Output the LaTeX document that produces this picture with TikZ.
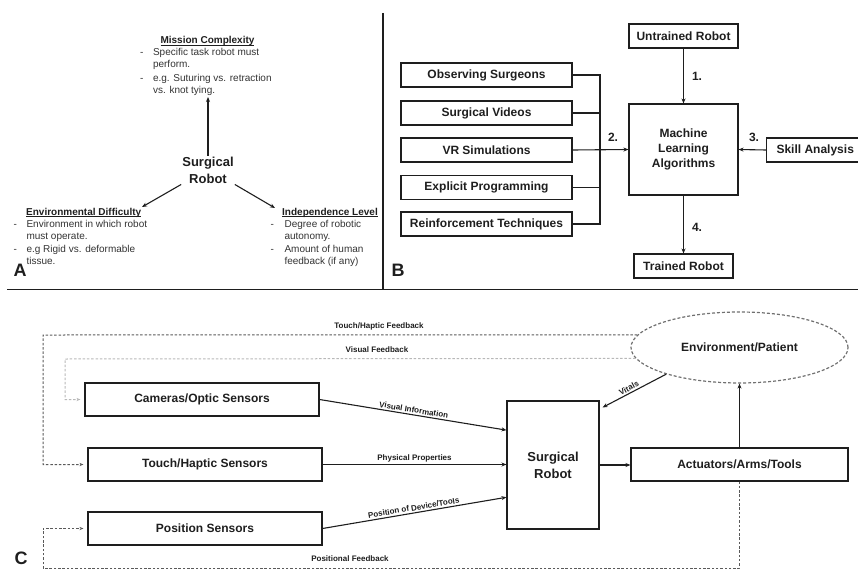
\documentclass[tikz,border=0pt]{standalone}
\usepackage{fontspec}
\setmainfont{Liberation Sans}
\usetikzlibrary{arrows.meta,shapes.geometric,calc}
\definecolor{ink}{HTML}{1E1E1E}
\definecolor{bodytxt}{HTML}{333333}
\definecolor{fbdark}{HTML}{5A5A5A}
\definecolor{fblight}{HTML}{B8B8B8}
\definecolor{envline}{HTML}{707070}
\newcommand\myul[1]{\setbox0\hbox{#1}\rlap{\rule[-1.4pt]{\wd0}{0.7pt}}\box0}
\begin{document}
\begin{tikzpicture}[x=1pt,y=-1pt,
  every node/.style={text=ink},
  box/.style={draw=ink, line width=1.1pt, inner sep=0pt, align=center,
    font=\fontsize{12}{15}\bfseries\selectfont},
  bigtxt/.style={inner sep=1pt, align=center, font=\fontsize{13}{17}\bfseries\selectfont},
  head/.style={inner sep=0pt, font=\fontsize{10}{12}\bfseries\selectfont},
  bullets/.style={inner sep=0pt, anchor=base west, text=bodytxt, font=\fontsize{10}{12}\selectfont},
  num/.style={inner sep=0pt, font=\fontsize{12}{14}\bfseries\selectfont},
  panel/.style={inner sep=0pt, font=\fontsize{18}{20}\bfseries\selectfont},
  lbl/.style={inner sep=1.5pt, font=\fontsize{8}{9}\bfseries\selectfont},
  con/.style={draw=ink, line width=1.1pt},
  arr/.style={draw=ink, line width=1.1pt, -{Stealth[length=5pt,width=4pt]}},
  fbarr/.style={-{Stealth[length=4pt,width=3.2pt]}, shorten >=4pt},
  fbd/.style={draw=fbdark, line width=1pt, dash pattern=on 2.5pt off 1.8pt},
  fbl/.style={draw=fblight, line width=1pt, dash pattern=on 2.5pt off 1.8pt},
  divider/.style={draw=ink, line width=1.4pt}
]
\useasboundingbox (0,0) rectangle (858,569);
\clip (0,0) rectangle (858,569);

% ---------- dividers ----------
\coordinate (hl) at (7,289.5);
\coordinate (hr) at (858,289.5);
\coordinate (vt) at (383,13);
\coordinate (vb) at (383,289.5);
\draw[divider] (hl) -- (hr);
\draw[divider] (vt) -- (vb);

% ---------- panel A ----------
\node[head, anchor=base] (mch) at (207.5,44) {\myul{Mission Complexity}};
\node[bullets] (mcl) at (140,56) {\begin{tabular}[t]{@{}l@{\hspace{9.5pt}}l@{}}-&Specific task robot must\\&perform.\\[1.5pt]-&e.g. Suturing vs. retraction\\&vs. knot tying.\end{tabular}};
\node[bigtxt] (sra) at (208,170) {Surgical\\Robot};
\node[head, anchor=base west] (edh) at (26,215.5) {\myul{Environmental Difficulty}};
\node[bullets] (edl) at (13.5,227) {\begin{tabular}[t]{@{}l@{\hspace{9.5pt}}l@{}}-&Environment in which robot\\&must operate.\\[1pt]-&e.g Rigid vs. deformable\\&tissue.\end{tabular}};
\node[head, anchor=base west] (ilh) at (282,215.5) {\myul{Independence Level}};
\node[bullets] (ill) at (270.5,227) {\begin{tabular}[t]{@{}l@{\hspace{10.5pt}}l@{}}-&Degree of robotic\\&autonomy.\\[1pt]-&Amount of human\\&feedback (if any)\end{tabular}};
\coordinate (mcTip) at (208,97);
\coordinate (edTip) at (142,207);
\coordinate (ilTip) at (275,208);
\draw[arr] (sra.north) -- (mcTip);
\draw[arr] (sra.south west) -- (edTip);
\draw[arr] (sra.south east) -- (ilTip);
\node[panel] (pA) at (20,270) {A};

% ---------- panel B ----------
\node[box, minimum width=109pt, minimum height=24pt] (unt) at (683.5,36) {Untrained Robot};
\node[box, minimum width=171pt, minimum height=24pt] (obs) at (486.5,75) {Observing Surgeons};
\node[box, minimum width=171pt, minimum height=24pt] (vid) at (486.5,113) {Surgical Videos};
\node[box, minimum width=171pt, minimum height=24pt] (vrs) at (486.5,150) {VR Simulations};
\node[box, minimum width=171pt, minimum height=24pt] (exp) at (486.5,187.5) {Explicit Programming};
\node[box, minimum width=171pt, minimum height=24pt] (rei) at (486.5,224) {Reinforcement Techniques};
\node[box, minimum width=109pt, minimum height=91pt] (mla) at (683.5,149.5) {Machine\\Learning\\Algorithms};
\node[box, anchor=west, inner xsep=10pt, minimum height=24pt] (ska) at (766,150) {Skill Analysis};
\node[box, minimum width=99pt, minimum height=24pt] (trn) at (683.5,266) {Trained Robot};
\coordinate (bx) at (600,0);
\draw[con] (obs.east) -- (obs.east -| bx) -- (rei.east -| bx) -- (rei.east);
\draw[con] (vid.east) -- (vid.east -| bx);
\draw[con] (exp.east) -- (exp.east -| bx);
\draw[arr] (vrs.east) -- (mla.west);
\draw[arr] (unt.south) -- (mla.north);
\draw[arr] (ska.west) -- (mla.east);
\draw[arr] (mla.south) -- (trn.north);
\node[num] (n1) at (697,76) {1.};
\node[num] (n2) at (613,137) {2.};
\node[num] (n3) at (754,137) {3.};
\node[num] (n4) at (697,227) {4.};
\node[panel] (pB) at (398,270) {B};

% ---------- panel C ----------
\node[box, minimum width=234pt, minimum height=33pt] (cam) at (202,399.5) {Cameras/Optic Sensors};
\node[box, minimum width=234pt, minimum height=33pt] (tou) at (205,464.5) {Touch/Haptic Sensors};
\node[box, minimum width=234pt, minimum height=33pt] (pos) at (205,528.5) {Position Sensors};
\node[box, minimum width=92pt, minimum height=128pt, font=\fontsize{13}{17}\bfseries\selectfont] (src) at (553,465) {Surgical\\Robot};
\node[box, minimum width=217pt, minimum height=33pt] (act) at (739.5,464.5) {Actuators/Arms/Tools};
\node[ellipse, draw=envline, line width=1.2pt, dash pattern=on 3pt off 2pt,
      minimum width=217pt, minimum height=71pt, inner sep=0pt,
      font=\fontsize{12}{15}\bfseries\selectfont] (env) at (739.5,347.5) {Environment/Patient};

\draw[arr] (cam.east) -- ($(src.north west)!0.23!(src.south west)$)
  node[lbl, midway, sloped, above] {Visual Information};
\draw[arr] (tou.east) -- (tou.east -| src.west)
  node[lbl, midway, above] {Physical Properties};
\draw[arr] (pos.east) -- ($(src.north west)!0.75!(src.south west)$)
  node[lbl, midway, sloped, above] {Position of Device/Tools};
\draw[arr] (src.east) -- (src.east -| act.west);
\draw[arr] (act.north) -- (act.north |- env.south);
\draw[{Stealth[length=5pt,width=4pt]}-, draw=ink, line width=1.1pt]
  ($(src.north east)+(3,7)$) -- (env.200) node[lbl, pos=0.45, sloped, above] {Vitals};

% feedback loops
\coordinate (tl) at (43,335);
\coordinate (vl) at (65,359);
\coordinate (bl) at (43,568);
\draw[fbd, fbarr] (env.173.3) -- (tl) |- (tou.west);
\draw[fbl, fbarr] (env.186.7) -- (vl) |- (cam.west);
\draw[fbd, fbarr] (act.south) |- (bl) |- (pos.west);
\node[lbl] (thf) at (379,326) {Touch/Haptic Feedback};
\node[lbl] (vfb) at (377,350) {Visual Feedback};
\node[lbl] (pfb) at (350,559) {Positional Feedback};
\node[panel] (pC) at (21,558) {C};
\end{tikzpicture}
\end{document}
